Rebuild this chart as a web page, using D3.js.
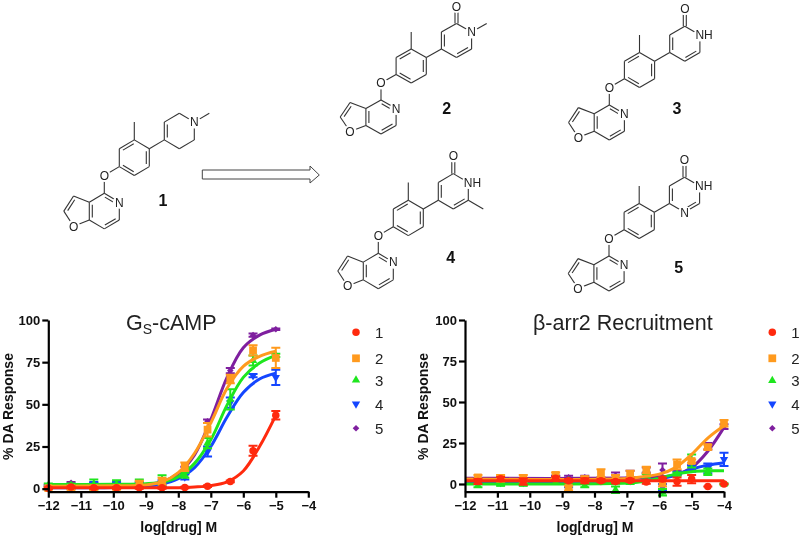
<!DOCTYPE html>
<html>
<head>
<meta charset="utf-8">
<script src="https://cdn.jsdelivr.net/npm/d3@7"></script>
<style>
  html, body { margin: 0; padding: 0; background: #fff; }
  svg { display: block; filter: blur(0.5px); }
  text { font-family: "Liberation Sans", Arial, sans-serif; }
</style>
</head>
<body>
<svg id="chart" width="800" height="536"></svg>
<script>
const seriesNames = ['1', '2', '3', '4', '5'];
const seriesColors = ['#ff2a0e', '#ff9a1e', '#1ee61e', '#1446ff', '#7f1f9f'];

// Gs-cAMP points
const gsDoses = [-12, -11.3, -10.6, -9.9, -9.2, -8.5, -7.8, -7.1, -6.4, -5.7, -5];
const gsMean1 = [0.3, 1, 0.5, 0.5, 0.5, 0.5, 0.7, 1.5, 4.3, 22.5, 43.5];
const gsMean2 = [0.3, 0.3, 0.3, 0.5, 3, 4.5, 13, 35, 65, 82, 77.5];
const gsMean3 = [2, 2, 2.5, 2.5, 3, 3, 8, 27, 53, 76, 79];
const gsMean4 = [1, 1, 2, 2, 2, 3, 7, 22, 51, 67, 66];
const gsMean5 = [2, 3.5, 2.5, 2, 3, 3, 11, 40, 70, 91, 94.5];
const gsErr1 = [0.5, 0.5, 0.5, 0.5, 0.5, 0.5, 0.5, 0.5, 0.5, 3, 2.5];
const gsErr2 = [1, 1, 1, 1, 1.5, 2, 2.5, 4, 2.5, 3, 6];
const gsErr3 = [1, 1, 3, 2.5, 2.5, 5, 1.5, 3, 6, 3, 1];
const gsErr4 = [1, 1, 2, 2, 1.5, 2, 1.5, 3, 3, 1, 4.5];
const gsErr5 = [0.5, 0.5, 1, 1, 1, 1, 2, 1, 1.5, 1, 0.5];

// Gs-cAMP fitted curves
const gsFitX = [-12, -10, -9, -8.5, -8, -7.5, -7, -6.5, -6, -5.5, -5];
const gsFit1 = [0.5, 0.5, 0.5, 0.5, 0.6, 1, 1.8, 4, 10.5, 25, 43.5];
const gsFit2 = [1.5, 1.7, 2.2, 4, 9.5, 21, 39, 59.5, 72.5, 78.5, 81.5];
const gsFit3 = [2.5, 2.6, 2.9, 3.8, 7, 15, 29, 49.5, 66, 74.5, 79];
const gsFit4 = [0.5, 0.7, 1.5, 2.8, 6, 12.5, 25, 42.5, 57, 65, 68.5];
const gsFit5 = [2, 2.1, 2.5, 4, 9, 20, 41, 66, 83.5, 91, 94.5];

// beta-arrestin2 points
const arrDoses = [-11.6, -10.9, -10.2, -9.2, -8.8, -8.3, -7.8, -7.35, -6.9, -6.4, -5.9, -5.45, -5, -4.5, -4];
const arrMean1 = [1.5, 3.2, 1.5, 3.5, 2, 2, 2, 1.5, 2.2, 1.2, 3, 1.5, 3, -1.5, 0];
const arrMean2 = [4, 3.5, 3.5, 5.5, -2.5, 3, 6.5, 3.5, 5.5, 8.5, 0.5, 12, 14, 22.5, 37];
const arrMean3 = [-1, 0, 0, 1, 2, -1, 1, -3.5, 1, 5, -5, 6, 14, 7.5, 0];
const arrMean4 = [1.5, 1, 1, 3, 0, 2, 2, 2, 2, 4.5, -2, 6.5, 9.5, 9.5, 15];
const arrMean5 = [3, 3, 3, 4, 4, 4, 3, 5, 6, 8.5, 8.5, 7, 10, 23, 35];
const arrErr1 = [1.5, 1, 2, 1, 1, 1.5, 1, 1, 1, 1, 1, 2.5, 2.5, 0, 0];
const arrErr2 = [1.5, 2, 2, 1.5, 1.5, 1.5, 2.5, 2, 2.5, 2, 2, 3, 1, 1.5, 2];
const arrErr3 = [1, 1, 1, 1, 1, 1, 1, 2, 1, 1, 2, 1, 4, 2, 0.5];
const arrErr4 = [1, 1, 1, 2, 2, 1, 1, 1, 1, 2, 2, 1, 2, 3, 4];
const arrErr5 = [0.5, 0.5, 0.5, 1, 1, 1, 1, 2, 2, 1.5, 4, 1, 1.5, 2, 1.5];

// beta-arrestin2 fitted curves
const arrFitX = [-12, -7, -6.5, -6, -5.5, -5, -4.5, -4];
const arrFit1 = [2, 2, 2, 2, 2, 2, 2, 2];
const arrFit2 = [3, 3.3, 4.5, 6, 10, 18, 28, 35.5];
const arrFit3 = [0, 0.6, 1.5, 3.5, 6, 7.5, 8, 8];
const arrFit4 = [1.5, 1.7, 2, 3, 5.5, 9, 11.5, 13];
const arrFit5 = [3.5, 3.6, 4, 4.2, 5.5, 10, 20, 34.5];

const xTicks = [-12, -11, -10, -9, -8, -7, -6, -5, -4];
const yTicks = [0, 25, 50, 75, 100];

const svg = d3.select('#chart');

const markerTypes = [d3.symbolCircle, d3.symbolSquare, d3.symbolTriangle, d3.symbolTriangle, d3.symbolDiamond2];
const markerSizes = [44, 60, 30, 30, 28];
const markerPath = (i) => {
  const d = d3.symbol().type(markerTypes[i]).size(markerSizes[i])();
  if (i !== 3) return d;
  // series 4 is the triangle pointing down
  return d.replace(/(-?[\d.]+),(-?[\d.]+)/g, (m, a, b) => `${a},${-b}`);
};

// Draw one dose-response panel
const drawPanel = (p) => {
  const x = d3.scaleLinear().domain([-12, -4]).range(p.xRange);
  const y = d3.scaleLinear().domain(p.yDomain).range([491.7, 320]);
  const g = svg.append('g');

  // Series are painted last to first, so 1 ends up on top
  d3.range(4, -1, -1).forEach((i) => {
    const color = seriesColors[i];
    const line = d3.line()
      .x((d) => x(d[0]))
      .y((d) => y(d[1]))
      .curve(d3.curveCatmullRom.alpha(0.5));

    g.append('path')
      .datum(d3.zip(p.fitX, p.fits[i]))
      .attr('fill', 'none')
      .attr('stroke', color)
      .attr('stroke-width', 3)
      .attr('d', line);

    const points = d3.zip(p.doses, p.means[i], p.errs[i]);
    const bars = g.append('g').attr('stroke', color).attr('stroke-width', 2).attr('fill', 'none');
    points.forEach((d) => {
      const cx = x(d[0]);
      bars.append('path')
        .attr('d', `M${cx},${y(d[1] - d[2])}V${y(d[1] + d[2])}` +
          `M${cx - 4.5},${y(d[1] + d[2])}H${cx + 4.5}` +
          `M${cx - 4.5},${y(d[1] - d[2])}H${cx + 4.5}`);
    });

    g.append('g').selectAll('path')
      .data(points)
      .enter()
      .append('path')
      .attr('transform', (d) => `translate(${x(d[0])},${y(d[1])})`)
      .attr('d', markerPath(i))
      .attr('fill', color);
  });

  // Axes
  const xAxis = g.append('g')
    .attr('transform', `translate(0,${y.range()[0]})`)
    .call(d3.axisBottom(x).tickValues(xTicks).tickFormat(d3.format('d')).tickSize(6).tickSizeOuter(0));
  const yAxis = g.append('g')
    .attr('transform', `translate(${p.xRange[0]},0)`)
    .call(d3.axisLeft(y).tickValues(yTicks).tickSize(6).tickSizeOuter(0));

  [xAxis, yAxis].forEach((a) => {
    a.selectAll('path, line').attr('stroke', '#000').attr('stroke-width', 2.2);
    a.selectAll('text')
      .attr('fill', '#111')
      .style('font-family', '"Liberation Sans", Arial, sans-serif')
      .style('font-size', '13px')
      .style('font-weight', 'bold');
  });
  xAxis.selectAll('text').attr('dy', '0.71em').attr('y', 9);
  yAxis.selectAll('text').attr('x', -8);

  g.append('text')
    .attr('x', (p.xRange[0] + p.xRange[1]) / 2 + 0.5)
    .attr('y', 532)
    .attr('text-anchor', 'middle')
    .attr('fill', '#111')
    .style('font-size', '14px')
    .style('font-weight', 'bold')
    .text('log[drug] M');

  g.append('text')
    .attr('transform', `translate(${p.yLabelX},406.5) rotate(-90)`)
    .attr('text-anchor', 'middle')
    .attr('fill', '#111')
    .style('font-size', '14px')
    .style('font-weight', 'bold')
    .text('% DA Response');

  // Title
  const title = g.append('text')
    .attr('x', p.titleX)
    .attr('y', 330)
    .attr('fill', '#222')
    .style('font-size', '21.5px');
  p.title.forEach((part) => {
    const span = title.append('tspan').text(part.text);
    if (part.sub) span.attr('dy', 4).style('font-size', '14px');
    if (part.up) span.attr('dy', -4);
  });

  // Legend
  seriesNames.forEach((name, i) => {
    g.append('path')
      .attr('transform', `translate(${p.legendX},${p.legendY[i]})`)
      .attr('d', markerPath(i))
      .attr('fill', seriesColors[i]);
    g.append('text')
      .attr('x', p.legendX + 19)
      .attr('y', p.legendY[i] + 5.5)
      .attr('fill', '#222')
      .style('font-size', '15px')
      .text(name);
  });
};

drawPanel({
  xRange: [48.3, 308.3], yDomain: [-1.8, 100], yLabelX: 12.5, titleX: 126,
  doses: gsDoses, means: [gsMean1, gsMean2, gsMean3, gsMean4, gsMean5],
  errs: [gsErr1, gsErr2, gsErr3, gsErr4, gsErr5],
  fitX: gsFitX, fits: [gsFit1, gsFit2, gsFit3, gsFit4, gsFit5],
  title: [{ text: 'G' }, { text: 'S', sub: true }, { text: '-cAMP', up: true }],
  legendX: 356, legendY: [332.3, 358.3, 380, 404, 428.3]
});

drawPanel({
  xRange: [465, 724], yDomain: [-4.7, 100], yLabelX: 428, titleX: 533,
  doses: arrDoses, means: [arrMean1, arrMean2, arrMean3, arrMean4, arrMean5],
  errs: [arrErr1, arrErr2, arrErr3, arrErr4, arrErr5],
  fitX: arrFitX, fits: [arrFit1, arrFit2, arrFit3, arrFit4, arrFit5],
  title: [{ text: 'β-arr2 Recruitment' }],
  legendX: 772.3, legendY: [332.3, 358.3, 380.5, 404, 428.3]
});

// Structures: atoms sit on a hexagonal lattice, measured from the carbon next to the ether O
const pyridineCenter = [0, 2];
const phenylCenter = [2, -4];
const topRingCenter = [5, -7];

const coreBonds = [
  [[0, 0], [1, 1], pyridineCenter], [[1, 1], [1, 3]], [[1, 3], [0, 4], pyridineCenter],
  [[0, 4], [-1, 3]], [[-1, 3], [-1, 1], pyridineCenter], [[-1, 1], [0, 0]],
  [[-1, 1], [-2.05, 0.3]], [[-2.05, 0.3], [-2.7, 2], [-1.6, 2]], [[-2.7, 2], [-2.05, 3.7]], [[-2.05, 3.7], [-1, 3]],
  [[0, 0], [0, -2]], [[0, -2], [1, -3]],
  [[1, -3], [1, -5]], [[1, -5], [2, -6], phenylCenter], [[2, -6], [3, -5]],
  [[3, -5], [3, -3], phenylCenter], [[3, -3], [2, -2]], [[2, -2], [1, -3], phenylCenter],
  [[2, -6], [2, -8]], [[3, -5], [4, -6]]
];
const coreAtoms = [['O', 0, -2], ['N', 1, 1], ['O', -2.05, 3.7]];

const ringBase = [
  [[4, -6], [4, -8], topRingCenter], [[4, -8], [5, -9]], [[5, -9], [6, -8]], [[6, -8], [6, -6]]
];
const carbonyl = [[5, -9], [5, -11], 'both'];

const tailBonds = {
  1: [...ringBase, [[6, -6], [5, -5]], [[5, -5], [4, -6]], [[6, -8], [7, -9]]],
  2: [...ringBase, [[6, -6], [5, -5], topRingCenter], [[5, -5], [4, -6]], [[6, -8], [7, -9]], carbonyl],
  3: [...ringBase, [[6, -6], [5, -5], topRingCenter], [[5, -5], [4, -6]], carbonyl],
  4: [...ringBase, [[6, -6], [5, -5], topRingCenter], [[5, -5], [4, -6]], [[6, -6], [7, -5]], carbonyl],
  5: [...ringBase, [[6, -6], [5, -5], topRingCenter], [[5, -5], [4, -6]], carbonyl]
};
const tailAtoms = {
  1: [['N', 6, -8]],
  2: [['N', 6, -8], ['O', 5, -11]],
  3: [['NH', 6, -8], ['O', 5, -11]],
  4: [['NH', 6, -8], ['O', 5, -11]],
  5: [['NH', 6, -8], ['O', 5, -11], ['N', 5, -5]]
};

const moleculeIds = [1, 2, 3, 4, 5];
const moleculeAnchors = [[104.3, 193.3], [381, 100], [609.3, 105], [378.3, 253.3], [609, 256]];
const moleculeScales = [[15, 8.9], [15.1, 8.5], [15.1, 8.75], [15, 8.85], [15.1, 8.75]];
const moleculeLabels = [[163, 206], [446.7, 114], [677, 114], [450.7, 262.5], [678.7, 272.5]];

const drawMolecule = (id, i) => {
  const [ax, ay] = moleculeAnchors[i];
  const [sx, sy] = moleculeScales[i];
  const px = (p) => [ax + p[0] * sx, ay + p[1] * sy];
  const g = svg.append('g').attr('stroke', '#333').attr('stroke-width', 1.1).attr('fill', 'none');
  const seg = (a, b) => g.append('line')
    .attr('x1', a[0]).attr('y1', a[1]).attr('x2', b[0]).attr('y2', b[1]);

  [...coreBonds, ...tailBonds[id]].forEach(([from, to, inner]) => {
    const a = px(from);
    const b = px(to);
    const dx = b[0] - a[0];
    const dy = b[1] - a[1];
    const len = Math.hypot(dx, dy);
    const nx = -dy / len;
    const ny = dx / len;
    if (inner === 'both') {
      seg([a[0] + nx * 1.5, a[1] + ny * 1.5], [b[0] + nx * 1.5, b[1] + ny * 1.5]);
      seg([a[0] - nx * 1.5, a[1] - ny * 1.5], [b[0] - nx * 1.5, b[1] - ny * 1.5]);
      return;
    }
    seg(a, b);
    if (inner) {
      const c = px(inner);
      const side = (c[0] - a[0]) * nx + (c[1] - a[1]) * ny > 0 ? 1 : -1;
      const off = 3 * side;
      seg([a[0] + dx * 0.14 + nx * off, a[1] + dy * 0.14 + ny * off],
        [b[0] - dx * 0.14 + nx * off, b[1] - dy * 0.14 + ny * off]);
    }
  });

  [...coreAtoms, ...tailAtoms[id]].forEach(([label, u, v]) => {
    const [cx, cy] = px([u, v]);
    g.append('circle').attr('cx', cx).attr('cy', cy).attr('r', 6.5).attr('fill', '#fff').attr('stroke', 'none');
    if (label === 'NH') {
      g.append('rect').attr('x', cx).attr('y', cy - 6).attr('width', 14).attr('height', 12).attr('fill', '#fff').attr('stroke', 'none');
    }
    g.append('text')
      .attr('x', label === 'NH' ? cx - 4.5 : cx)
      .attr('y', cy + 4.3)
      .attr('text-anchor', label === 'NH' ? 'start' : 'middle')
      .attr('fill', '#222')
      .attr('stroke', 'none')
      .style('font-size', '12px')
      .text(label);
  });

  svg.append('text')
    .attr('x', moleculeLabels[i][0])
    .attr('y', moleculeLabels[i][1])
    .attr('text-anchor', 'middle')
    .attr('fill', '#111')
    .style('font-size', '16px')
    .style('font-weight', 'bold')
    .text(id);
};
moleculeIds.forEach(drawMolecule);

// Hollow arrow between the parent compound and the analogues
const arrowPoints = [[202.3, 170], [310, 170], [310, 166], [319.3, 175], [310, 183], [310, 179], [202.3, 179]];
svg.append('polygon')
  .attr('points', arrowPoints.join(' '))
  .attr('fill', '#fff')
  .attr('stroke', '#444')
  .attr('stroke-width', 1);
</script>
</body>
</html>
